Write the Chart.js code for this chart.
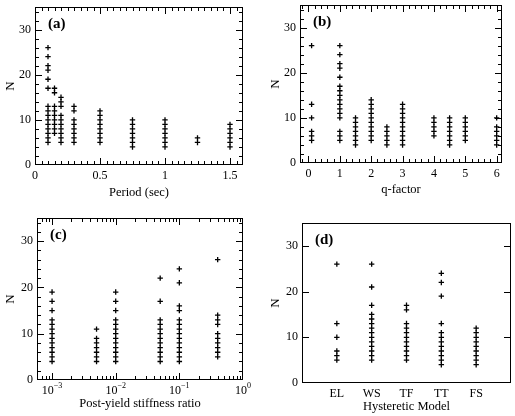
<!DOCTYPE html>
<html>
<head>
<meta charset="utf-8">
<script src="https://cdn.jsdelivr.net/npm/chart.js@4.4.0/dist/chart.umd.min.js"></script>
<style>
  body { margin: 0; background: #fff; }
  #wrap { position: relative; width: 515px; height: 416px; }
  canvas { position: absolute; }
</style>
</head>
<body>
<div id="wrap">
  <canvas id="chartA" width="257" height="205" style="left:0;top:0"></canvas>
  <canvas id="chartB" width="258" height="205" style="left:257px;top:0"></canvas>
  <canvas id="chartC" width="257" height="211" style="left:0;top:205px"></canvas>
  <canvas id="chartD" width="258" height="211" style="left:257px;top:205px"></canvas>
</div>
<script>
// (a) N against period
const periods = [0.1, 0.15, 0.2, 0.3, 0.5, 0.75, 1, 1.25, 1.5];
const nByPeriod = [
  [26, 24, 22, 21, 19, 17, 13, 12, 11, 10, 9, 8, 7, 6, 5],
  [17, 16, 13, 12, 11, 10, 9, 8, 7],
  [15, 14, 13, 11, 10, 9, 8, 7, 6, 5],
  [13, 12, 10, 9, 8, 7, 6, 5],
  [12, 11, 10, 9, 8, 7, 6, 5],
  [10, 9, 8, 7, 6, 5, 4],
  [10, 9, 8, 7, 6, 5, 4],
  [6, 5],
  [9, 8, 7, 6, 5, 4]
];

// (b) N against q-factor
const qFactors = [0.1, 1, 1.5, 2, 2.5, 3, 4, 4.5, 5, 6];
const nByQ = [
  [26, 13, 10, 7, 6, 5],
  [26, 24, 22, 21, 19, 17, 16, 15, 14, 13, 12, 11, 10, 7, 6, 5],
  [10, 9, 8, 7, 6, 5, 4],
  [14, 13, 12, 11, 10, 9, 8, 7, 6, 5],
  [8, 7, 6, 5, 4],
  [13, 12, 11, 10, 9, 8, 7, 6, 5, 4],
  [10, 9, 8, 7, 6],
  [10, 9, 8, 7, 6, 5, 4],
  [10, 9, 8, 7, 6, 5],
  [10, 8, 7, 6, 5, 4]
];

// (c) N against post-yield stiffness ratio
const stiffRatios = [0.001, 0.005, 0.01, 0.05, 0.1, 0.4];
const nByStiff = [
  [19, 17, 15, 13, 12, 11, 10, 9, 8, 7, 6, 5, 4],
  [11, 9, 8, 7, 6, 5, 4],
  [19, 17, 15, 13, 12, 11, 10, 9, 8, 7, 6, 5, 4],
  [22, 17, 13, 12, 11, 10, 9, 8, 7, 6, 5, 4],
  [24, 21, 16, 15, 13, 12, 11, 10, 9, 8, 7, 6, 5, 4],
  [26, 14, 13, 12, 10, 9, 8, 7, 6, 5]
];

// (d) N against hysteretic model
const models = ['EL', 'WS', 'TF', 'TT', 'FS'];
const nByModel = [
  [26, 13, 10, 7, 6, 5],
  [26, 21, 17, 15, 14, 13, 12, 11, 10, 9, 8, 7, 6, 5],
  [17, 16, 13, 12, 11, 10, 9, 8, 7, 6, 5],
  [24, 22, 19, 13, 11, 10, 9, 8, 7, 6, 5, 4],
  [12, 11, 10, 9, 8, 7, 6, 5, 4]
];

const yTicks = [0, 10, 20, 30];
const SERIF = '"Liberation Serif", "Times New Roman", serif';

const toPoints = (xs, groups) => {
  const pts = [];
  xs.forEach((xv, i) => groups[i].forEach(n => pts.push({ x: xv, y: n })));
  return pts;
};

const range = (from, to, step) => {
  const out = [];
  for (let v = from; v <= to + 1e-9; v += step) out.push(Math.round(v * 1000) / 1000);
  return out;
};

// box around the plot, inward ticks on all sides, panel tag
const boxTicks = o => ({
  id: 'boxTicks',
  afterDraw(chart) {
    const { ctx, chartArea: a } = chart;
    const xs = chart.scales.x, ys = chart.scales.y;
    const L = Math.round(a.left), R = Math.round(a.right);
    const T = Math.round(a.top), B = Math.round(a.bottom);
    ctx.save();
    ctx.fillStyle = '#000';
    ctx.strokeStyle = '#000';
    ctx.lineWidth = 1;
    ctx.strokeRect(L + 0.5, T + 0.5, R - L - 1, B - T - 1);
    const xTick = (v, len) => {
      const px = Math.round(xs.getPixelForValue(v));
      if (px <= L + 1 || px >= R - 2) return;
      ctx.fillRect(px, B - len, 1, len);
      ctx.fillRect(px, T, 1, len);
    };
    const yTick = (v, len) => {
      const py = Math.round(ys.getPixelForValue(v));
      if (py <= T + 1 || py >= B - 2) return;
      ctx.fillRect(L, py, len, 1);
      ctx.fillRect(R - len, py, len, 1);
    };
    o.xMajor.forEach(v => xTick(v, 7));
    o.xMinor.forEach(v => xTick(v, 4));
    o.yMajor.forEach(v => yTick(v, 7));
    o.yMinor.forEach(v => yTick(v, 4));

    if (o.powerLabels) {
      // 10^k labels for the log axis
      o.powerLabels.forEach(v => {
        const px = xs.getPixelForValue(v);
        const exp = String(Math.round(Math.log10(v))).replace('-', '\u2212');
        ctx.font = '12px ' + SERIF;
        const wb = ctx.measureText('10').width;
        ctx.font = '8px ' + SERIF;
        const we = ctx.measureText(exp).width;
        const left = px - (wb + we) / 2;
        ctx.textBaseline = 'alphabetic';
        ctx.textAlign = 'left';
        ctx.font = '12px ' + SERIF;
        ctx.fillText('10', left, B + 14);
        ctx.font = '8px ' + SERIF;
        ctx.fillText(exp, left + wb, B + 8);
      });
    }

    ctx.font = 'bold 15px ' + SERIF;
    ctx.textAlign = 'left';
    ctx.textBaseline = 'middle';
    ctx.fillText(o.tag, L + 13, T + 17);
    ctx.restore();
  }
});

const makePanel = (id, points, p) => {
  const ctx = document.getElementById(id).getContext('2d');
  return new Chart(ctx, {
    type: 'scatter',
    data: {
      datasets: [{
        data: points,
        pointStyle: 'cross',
        pointRadius: 2.7,
        pointHoverRadius: 2.7,
        borderColor: '#000',
        backgroundColor: '#000',
        borderWidth: 1.3
      }]
    },
    options: {
      responsive: false,
      animation: false,
      devicePixelRatio: 1,
      layout: { padding: { top: p.top, right: p.right, left: 0, bottom: 0 } },
      plugins: {
        legend: { display: false },
        tooltip: { enabled: false }
      },
      scales: {
        x: Object.assign({
          grid: { display: false, drawTicks: false },
          border: { display: false },
          title: {
            display: true, text: p.xTitle, color: '#000',
            font: { family: SERIF, size: 12.5 },
            padding: { top: 0, bottom: p.xTitlePad }
          },
          afterFit: s => {
            s.height = p.xHeight;
            s.paddingLeft = 0;
            s.paddingRight = 0;
          }
        }, p.x),
        y: {
          min: 0,
          max: 35,
          grid: { display: false, drawTicks: false },
          border: { display: false },
          afterBuildTicks: s => { s.ticks = yTicks.map(v => ({ value: v })); },
          ticks: { color: '#000', padding: 4, font: { family: SERIF, size: 12 } },
          title: {
            display: true, text: 'N', color: '#000',
            font: { family: SERIF, size: 13 },
            padding: { top: p.yTitlePad, bottom: 0 }
          },
          afterFit: s => {
            s.width = p.yWidth;
            s.paddingTop = 0;
            s.paddingBottom = 0;
          }
        }
      }
    },
    plugins: [boxTicks(p.box)]
  });
};

const xTickFont = { family: SERIF, size: 12 };

makePanel('chartA', toPoints(periods, nByPeriod), {
  top: 7, right: 14, yWidth: 35, xHeight: 40, xTitlePad: 5, yTitlePad: 3,
  xTitle: 'Period (sec)',
  x: {
    type: 'linear', min: 0, max: 1.6,
    afterBuildTicks: s => { s.ticks = [0, 0.5, 1, 1.5].map(v => ({ value: v })); },
    ticks: { color: '#000', padding: 4, font: xTickFont, callback: v => String(v) }
  },
  box: { tag: '(a)', xMajor: [0, 0.5, 1, 1.5], xMinor: range(0, 1.6, 0.05), yMajor: yTicks, yMinor: range(0, 35, 2) }
});

makePanel('chartB', toPoints(qFactors, nByQ), {
  top: 5, right: 13, yWidth: 43, xHeight: 42, xTitlePad: 8, yTitlePad: 11,
  xTitle: 'q-factor',
  x: {
    type: 'linear', min: -0.27, max: 6.17,
    afterBuildTicks: s => { s.ticks = [0, 1, 2, 3, 4, 5, 6].map(v => ({ value: v })); },
    ticks: { color: '#000', padding: 4, font: xTickFont, callback: v => String(v) }
  },
  box: { tag: '(b)', xMajor: [0, 1, 2, 3, 4, 5, 6], xMinor: range(-0.2, 6.2, 0.2), yMajor: yTicks, yMinor: range(0, 35, 2) }
});

const logMinor = [];
[0.0001, 0.001, 0.01, 0.1].forEach(d => { for (let k = 2; k <= 9; k++) logMinor.push(d * k); });

makePanel('chartC', toPoints(stiffRatios, nByStiff), {
  top: 13, right: 14, yWidth: 37, xHeight: 36, xTitlePad: 5, yTitlePad: 3,
  xTitle: 'Post-yield stiffness ratio',
  x: {
    type: 'logarithmic', min: 0.00058, max: 1,
    afterBuildTicks: s => { s.ticks = [0.001, 0.01, 0.1, 1].map(v => ({ value: v })); },
    ticks: { display: false }
  },
  box: { tag: '(c)', xMajor: [0.001, 0.01, 0.1, 1], xMinor: logMinor, yMajor: yTicks, yMinor: range(0, 35, 2), powerLabels: [0.001, 0.01, 0.1, 1] }
});

makePanel('chartD', toPoints(models.map((m, i) => i + 1), nByModel), {
  top: 18, right: 3, yWidth: 45, xHeight: 33, xTitlePad: 2, yTitlePad: 11,
  xTitle: 'Hysteretic Model',
  x: {
    type: 'linear', min: 0, max: 6,
    afterBuildTicks: s => { s.ticks = models.map((m, i) => ({ value: i + 1 })); },
    ticks: { color: '#000', padding: 4, font: xTickFont, callback: v => models[v - 1] || '' }
  },
  box: { tag: '(d)', xMajor: [], xMinor: [], yMajor: yTicks, yMinor: [] }
});
</script>
</body>
</html>
